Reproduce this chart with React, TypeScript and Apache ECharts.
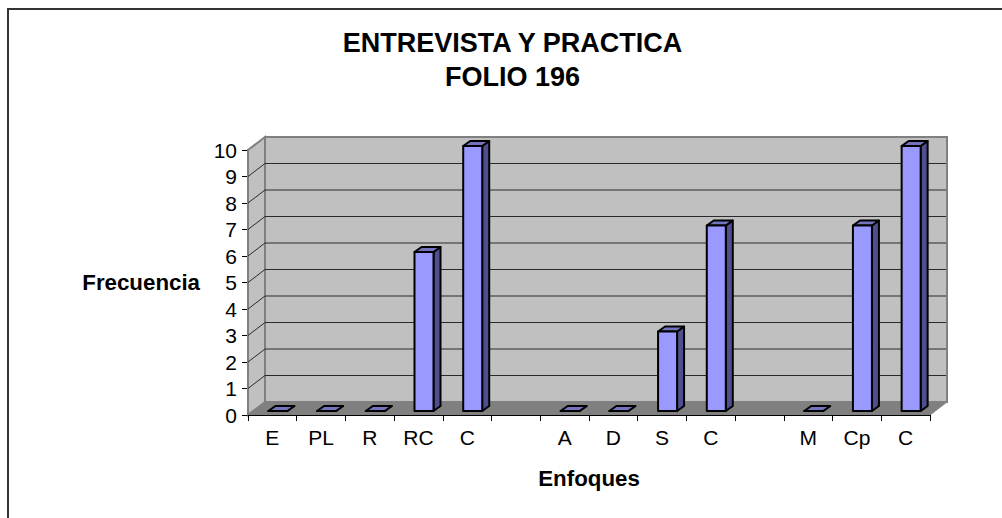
import React, { useEffect, useRef } from "react";
import * as echarts from "echarts";

const categories = ["E", "PL", "R", "RC", "C", "", "A", "D", "S", "C", "", "M", "Cp", "C"];
const frequencies = [0, 0, 0, 6, 10, null, 0, 0, 3, 7, null, 0, 7, 10];
const yTicks = [0, 1, 2, 3, 4, 5, 6, 7, 8, 9, 10];

const DX = 17;
const DY = -13;
const FONT = "'Liberation Sans', Arial, sans-serif";

export default function App() {
  const ref = useRef<HTMLDivElement>(null);
  useEffect(() => {
    const chart = echarts.init(ref.current!, null, { renderer: "svg" });
    chart.setOption({
      animation: false,
      backgroundColor: "#ffffff",
      title: {
        text: "ENTREVISTA Y PRACTICA\nFOLIO 196",
        left: 507.5,
        top: 21,
        textAlign: "center",
        textStyle: { fontFamily: FONT, fontSize: 27, fontWeight: "bold", color: "#000", lineHeight: 34 },
      },
      grid: { left: 248, top: 150, right: 72, bottom: 103 },
      xAxis: {
        type: "category",
        data: categories.map((c, i) => ({ value: c + "\u200b".repeat(i) })),
        name: "Enfoques",
        nameLocation: "middle",
        nameGap: 52,
        nameTextStyle: { fontFamily: FONT, fontSize: 22.3, fontWeight: "bold", color: "#000" },
        axisLine: { lineStyle: { color: "#000", width: 1 } },
        axisTick: { show: true, length: 6, lineStyle: { color: "#000" } },
        axisLabel: {
          interval: 0,
          margin: 12,
          fontFamily: FONT,
          fontSize: 21,
          color: "#000",
          formatter: (v: string) => v.replace(/\u200b/g, ""),
        },
        splitLine: { show: false },
        z: 5,
      },
      yAxis: {
        type: "value",
        min: 0,
        max: 10,
        interval: 1,
        name: "Frecuencia",
        nameLocation: "middle",
        nameRotate: 0,
        nameGap: 48,
        nameTextStyle: { fontFamily: FONT, fontSize: 22.3, fontWeight: "bold", color: "#000" },
        axisLine: { show: true, lineStyle: { color: "#808080", width: 2 } },
        axisTick: { show: true, length: 6, lineStyle: { color: "#000" } },
        axisLabel: { margin: 11, fontFamily: FONT, fontSize: 21, color: "#000" },
        splitLine: { show: false },
      },
      graphic: [
        { type: "polyline", silent: true, shape: { points: [[8, 518], [8, 9], [1002, 9]] }, style: { stroke: "#333", lineWidth: 2, fill: "none" } },
      ],
      series: [
        {
          type: "custom",
          name: "walls",
          silent: true,
          z: 1,
          coordinateSystem: "cartesian2d",
          data: [[0]],
          encode: { x: -1, y: -1 },
          clip: false,
          renderItem: (_p: any, api: any) => {
            const c0 = api.coord([0, 0]);
            const size = api.size([1, 1]);
            const x0 = c0[0] - size[0] / 2;
            const y0 = c0[1];
            const w = size[0] * categories.length;
            const h = size[1] * 10;
            return {
              type: "group",
              children: [
                { type: "polygon", shape: { points: [[x0 + DX, y0 + DY - h], [x0 + w + DX, y0 + DY - h], [x0 + w + DX, y0 + DY], [x0 + DX, y0 + DY]] }, style: { fill: "#c0c0c0", stroke: "#808080", lineWidth: 2 } },
                { type: "polygon", shape: { points: [[x0, y0 - h], [x0 + DX, y0 + DY - h], [x0 + DX, y0 + DY], [x0, y0]] }, style: { fill: "#c0c0c0", stroke: "#808080", lineWidth: 2 } },
                { type: "polygon", shape: { points: [[x0, y0], [x0 + DX, y0 + DY], [x0 + w + DX, y0 + DY], [x0 + w, y0]] }, style: { fill: "#808080", stroke: "#808080", lineWidth: 1 } },
              ],
            };
          },
        },
        {
          type: "custom",
          name: "gridlines",
          silent: true,
          z: 2,
          coordinateSystem: "cartesian2d",
          data: yTicks.slice(1, 10).map((t) => [0, t]),
          encode: { x: 0, y: 1 },
          clip: false,
          renderItem: (_p: any, api: any) => {
            const c = api.coord([0, api.value(1)]);
            const size = api.size([1, 1]);
            const x0 = c[0] - size[0] / 2;
            const w = size[0] * categories.length;
            return {
              type: "polyline",
              shape: { points: [[x0, c[1]], [x0 + DX, c[1] + DY], [x0 + w + DX - 1, c[1] + DY]] },
              style: { stroke: "#2a2a2a", lineWidth: 1, fill: "none" },
            };
          },
        },
        {
          type: "custom",
          name: "Frecuencia",
          z: 3,
          coordinateSystem: "cartesian2d",
          data: frequencies.map((v, i) => [i, v]).filter((d) => d[1] !== null),
          encode: { x: 0, y: 1 },
          clip: false,
          renderItem: (_p: any, api: any) => {
            const top = api.coord([api.value(0), api.value(1)]);
            const base = api.coord([api.value(0), 0]);
            const bw = 19;
            const ox = 5.5;
            const oy = -4;
            const dx = 7;
            const dy = -5;
            const l = top[0] + ox - bw / 2;
            const r = l + bw;
            const t = top[1] + oy;
            const b = base[1] + oy;
            const st = { stroke: "#000", lineWidth: 2, lineJoin: "round" };
            return {
              type: "group",
              children: [
                { type: "polygon", shape: { points: [[r, t], [r + dx, t + dy], [r + dx, b + dy], [r, b]] }, style: { fill: "#4f4f8f", ...st } },
                { type: "polygon", shape: { points: [[l, t], [l + dx, t + dy], [r + dx, t + dy], [r, t]] }, style: { fill: "#7373bf", ...st } },
                { type: "polygon", shape: { points: [[l, t], [r, t], [r, b], [l, b]] }, style: { fill: "#9999ff", ...st } },
              ],
            };
          },
        },
      ],
    });
    return () => chart.dispose();
  }, []);
  return <div ref={ref} style={{ position: "fixed", left: 0, top: 0, width: 1002, height: 518 }} />;
}
